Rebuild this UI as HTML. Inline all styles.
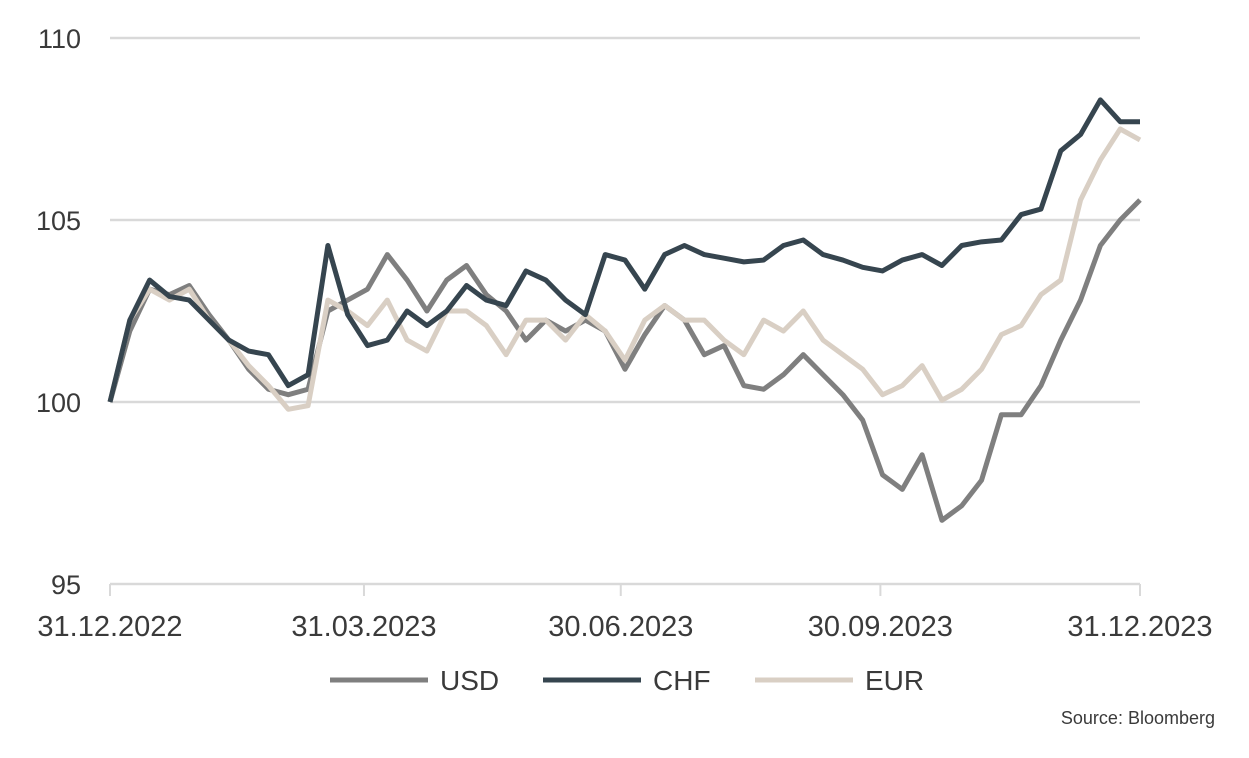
<!DOCTYPE html>
<html><head><meta charset="utf-8"><style>
body{margin:0;background:#fff;width:1249px;height:753px;overflow:hidden;font-family:"Liberation Sans",sans-serif}
svg text{font-family:"Liberation Sans",sans-serif;fill:#3a3a3a}
</style></head><body>
<svg width="1249" height="753" id="chart"></svg>
<script>
const xTickLabels=["31.12.2022","31.03.2023","30.06.2023","30.09.2023","31.12.2023"];
const xTickDays=[0,90,181,273,365];
const yTicks=[95,100,105,110];
const usd=[100,101.95,103.1,102.95,103.2,102.4,101.7,100.9,100.35,100.2,100.35,102.5,102.8,103.1,104.05,103.35,102.5,103.35,103.75,102.95,102.5,101.7,102.25,101.95,102.25,101.95,100.9,101.85,102.65,102.25,101.3,101.55,100.45,100.35,100.75,101.3,100.75,100.2,99.5,98.0,97.6,98.55,96.75,97.15,97.85,99.65,99.65,100.45,101.7,102.8,104.3,105.0,105.55];
const chf=[100,102.25,103.35,102.9,102.8,102.25,101.7,101.4,101.3,100.45,100.75,104.3,102.4,101.55,101.7,102.5,102.1,102.5,103.2,102.8,102.65,103.6,103.35,102.8,102.4,104.05,103.9,103.1,104.05,104.3,104.05,103.95,103.85,103.9,104.3,104.45,104.05,103.9,103.7,103.6,103.9,104.05,103.75,104.3,104.4,104.45,105.15,105.3,106.9,107.35,108.3,107.7,107.7];
const eur=[100,102.25,103.1,102.8,103.1,102.25,101.7,101.0,100.45,99.8,99.9,102.8,102.5,102.1,102.8,101.7,101.4,102.5,102.5,102.1,101.3,102.25,102.25,101.7,102.4,101.95,101.15,102.25,102.65,102.25,102.25,101.7,101.3,102.25,101.95,102.5,101.7,101.3,100.9,100.2,100.45,101.0,100.05,100.35,100.9,101.85,102.1,102.95,103.35,105.55,106.65,107.5,107.2];
const seriesNames=["USD","CHF","EUR"];
const colors=["#7f7f7f","#36454f","#d9cfc4"];
const svg=document.getElementById('chart');const NS="http://www.w3.org/2000/svg";
const X0=110,X1=1140;
function xDay(d){return X0+(X1-X0)*d/365;}
function xIdx(i,n){return X0+(X1-X0)*i/(n-1);}
function y(v){return 402-(v-100)*36.4;}
function mk(t,a){const e=document.createElementNS(NS,t);for(const k in a)e.setAttribute(k,a[k]);svg.appendChild(e);return e;}
yTicks.forEach(v=>{
 const l=mk('line',{x1:X0,x2:X1,y1:y(v),y2:y(v),stroke:'#d9d9d9','stroke-width':2.5});
 
 
 const t=mk('text',{x:81,y:y(v)+10,'font-size':27,'text-anchor':'end'});t.textContent=v;
 
 
});
xTickDays.forEach((d,i)=>{
 const tk=mk('line',{x1:xDay(d),x2:xDay(d),y1:584,y2:596,stroke:'#d9d9d9','stroke-width':2});
 
 
 const t=mk('text',{x:xDay(d),y:636,'font-size':29,'text-anchor':'middle'});t.textContent=xTickLabels[i];
 
 
});
[usd,eur,chf].forEach((s)=>{
 const k=s===usd?0:s===chf?1:2;
 const p=mk('polyline',{points:s.map((v,i)=>xIdx(i,s.length)+','+y(v)).join(' '),fill:'none',stroke:colors[k],'stroke-width':5,'stroke-linejoin':'round'});
 
 
});
const lx=[330,543,755];
seriesNames.forEach((n,i)=>{
 const l=mk('line',{x1:lx[i],x2:lx[i]+98,y1:680,y2:680,stroke:colors[i],'stroke-width':5});
 
 
 const t=mk('text',{x:lx[i]+110,y:690,'font-size':28});t.textContent=n;
 
 
});
const src=mk('text',{x:1215,y:724,'font-size':18,'text-anchor':'end'});src.textContent="Source: Bloomberg";


</script>
</body></html>
